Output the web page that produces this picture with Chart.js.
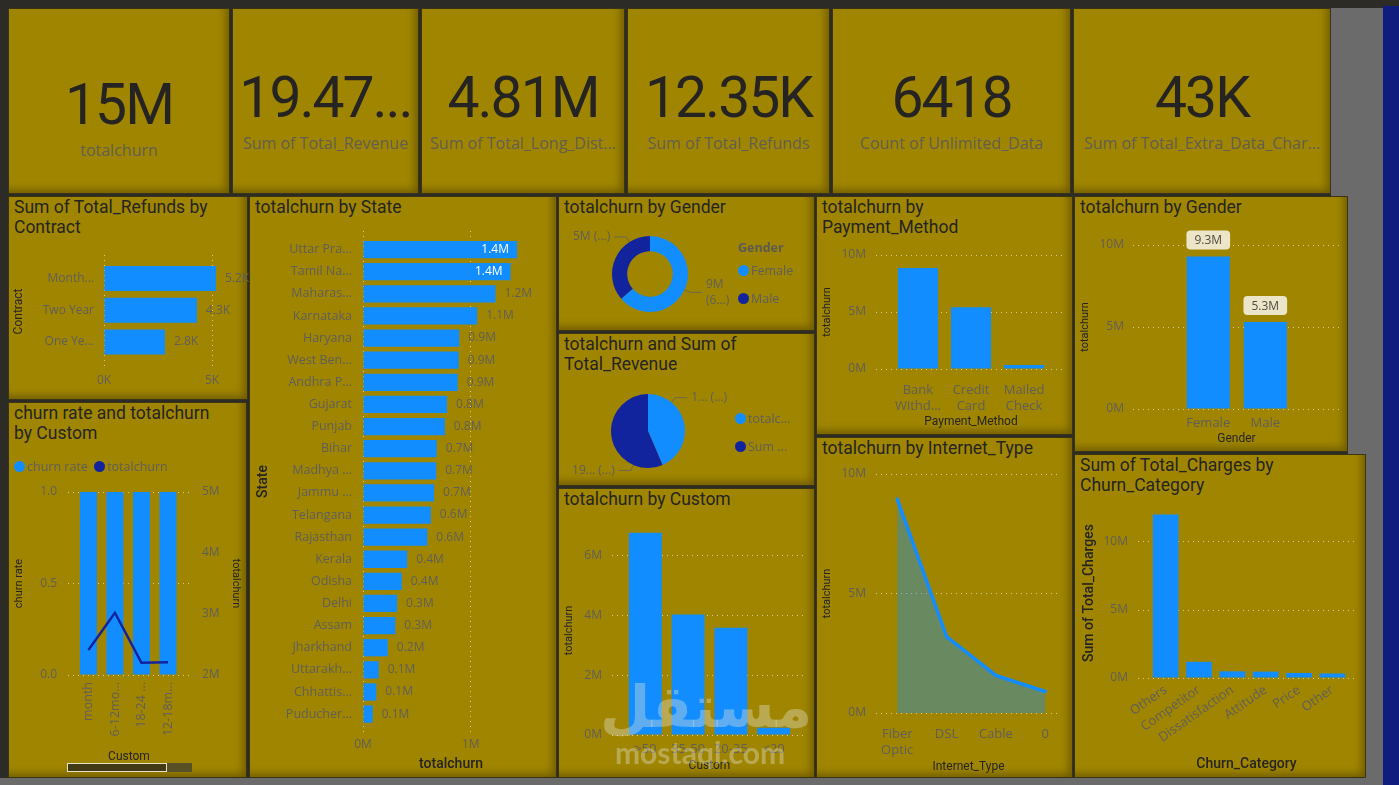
<!DOCTYPE html>
<html>
<head>
<meta charset="utf-8">
<title>Customer churn dashboard</title>
<script src="https://cdn.jsdelivr.net/npm/chart.js@4.4.1/dist/chart.umd.min.js"></script>
<style>
  html, body { margin: 0; padding: 0; }
  body { width: 1399px; height: 785px; position: relative; overflow: hidden; background: #2d2b25; font-family: "Open Sans", sans-serif; }
  .block { position: absolute; }
  .panel { position: absolute; box-sizing: border-box; background: #a08600; border: 1px solid #3b3414; box-shadow: inset -6px -6px 9px -3px rgba(50, 38, 0, 0.45); }
  .title { position: absolute; left: 5px; top: 0; font: 400 17.5px Roboto, sans-serif; line-height: 20px; color: #252423; white-space: nowrap; }
  .kpi-value { position: absolute; left: 0; width: 100%; text-align: center; font: 400 57px Roboto, sans-serif; line-height: 57px; letter-spacing: -2px; color: #252423; white-space: nowrap; }
  .kpi-label { position: absolute; left: 0; width: 100%; text-align: center; font: 400 16px "Open Sans", sans-serif; line-height: 20px; color: #625e50; white-space: nowrap; }
  .chart { position: absolute; }
  .legend { position: absolute; font: 12.5px "Open Sans", sans-serif; line-height: 16px; color: #605E5C; white-space: nowrap; }
  .dot { display: inline-block; width: 11px; height: 11px; border-radius: 50%; vertical-align: -1px; margin-right: 2px; }
  .mark { position: absolute; color: rgba(225, 225, 215, 0.38); white-space: nowrap; text-align: center; pointer-events: none; }
</style>
</head>
<body>
<script>
// ============================================
// DATA - values
// ============================================
const kpiValues = ['15M', '19.47...', '4.81M', '12.35K', '6418', '43K'];
const kpiLabels = ['totalchurn', 'Sum of Total_Revenue', 'Sum of Total_Long_Dist...', 'Sum of Total_Refunds', 'Count of Unlimited_Data', 'Sum of Total_Extra_Data_Char...'];

// refunds by contract
const contracts = ['Month...', 'Two Year', 'One Ye...'];
const contractRefunds = [5180, 4300, 2820];
const contractTicks = [0, 5000];

// churn rate + totalchurn by custom (tenure group)
const tenureGroups = ['month', '6-12mo...', '18-24 ...', '12-18m...'];
const tenureChurnRate = [1, 1, 1, 1];
const tenureTotalChurn = [2410000, 3020000, 2200000, 2210000];
const rateTicks = [0, 0.5, 1];
const rightChurnTicks = [2000000, 3000000, 4000000, 5000000];

// totalchurn by state
const states = ['Uttar Pra...', 'Tamil Na...', 'Maharas...', 'Karnataka', 'Haryana', 'West Ben...', 'Andhra P...', 'Gujarat', 'Punjab', 'Bihar', 'Madhya ...', 'Jammu ...', 'Telangana', 'Rajasthan', 'Kerala', 'Odisha', 'Delhi', 'Assam', 'Jharkhand', 'Uttarakh...', 'Chhattis...', 'Puducher...'];
const stateChurn = [1430000, 1370000, 1230000, 1060000, 894000, 888000, 879000, 780000, 760000, 684000, 680000, 660000, 630000, 597000, 410000, 360000, 316000, 300000, 230000, 146000, 124000, 90000];
const stateTicks = [0, 1000000];

// gender (donut + bar)
const genders = ['Female', 'Male'];
const genderChurn = [9300000, 5300000];
const donutTexts = [['9M', '(6...)'], ['5M (...)']];
const genderTicks = [0, 5000000, 10000000];

// totalchurn vs revenue pie
const pieNames = ['totalchurn', 'Sum of Total_Revenue'];
const pieValues = [15000000, 19470000];
const pieTexts = [['1... (...)'], ['19... (...)']];

// totalchurn by custom (age bins)
const ageBins = ['>50', '35-50', '20-35', '<20'];
const ageChurn = [6770000, 4040000, 3590000, 240000];
const ageTicks = [0, 2000000, 4000000, 6000000];

// totalchurn by payment method
const paymentTicks = [['Bank', 'Withd...'], ['Credit', 'Card'], ['Mailed', 'Check']];
const paymentChurn = [8860000, 5420000, 350000];
const paymentValueTicks = [0, 5000000, 10000000];

// totalchurn by internet type
const internetTicks = [['Fiber', 'Optic'], 'DSL', 'Cable', '0'];
const internetChurn = [8950000, 3200000, 1570000, 900000];
const internetValueTicks = [0, 5000000, 10000000];

// total charges by churn category
const churnCategories = ['Others', 'Competitor', 'Dissatisfaction', 'Attitude', 'Price', 'Other'];
const churnCharges = [12020000, 1190000, 490000, 470000, 370000, 330000];
const chargeTicks = [0, 5000000, 10000000];

// ============================================
// COLOURS AND HELPERS
// ============================================
const BLUE = '#118DFF';
const NAVY = '#12239E';
const GRID = 'rgba(255, 255, 255, 0.6)';
const TICK = '#605E5C';
const DARK = '#252423';
const PAD_TOP = 26;

const fmtM = v => v / 1000000 + 'M';
const fmtK = v => v / 1000 + 'K';
const fmtM1 = v => (v / 1000000).toFixed(1) + 'M';

// panels and background blocks
const panels = [
  [8, 8, 222, 186, ''], [232, 8, 187, 186, ''], [421, 8, 204, 186, ''],
  [627, 8, 203, 186, ''], [832, 8, 239, 186, ''], [1073, 8, 258, 186, ''],
  [8, 196, 240, 204, 'Sum of Total_Refunds by<br>Contract'],
  [8, 402, 239, 376, 'churn rate and totalchurn<br>by Custom'],
  [249, 196, 308, 582, 'totalchurn by State'],
  [558, 196, 257, 135, 'totalchurn by Gender'],
  [558, 333, 257, 153, 'totalchurn and Sum of<br>Total_Revenue'],
  [558, 488, 257, 290, 'totalchurn by Custom'],
  [816, 196, 257, 239, 'totalchurn by<br>Payment_Method'],
  [816, 437, 257, 341, 'totalchurn by Internet_Type'],
  [1074, 196, 274, 256, 'totalchurn by Gender'],
  [1074, 454, 292, 324, 'Sum of Total_Charges by<br>Churn_Category']
];
const blocks = [
  [1331, 8, 52, 188, '#6b6b6b'], [1348, 196, 35, 258, '#6b6b6b'],
  [1366, 454, 17, 324, '#6b6b6b'], [0, 778, 1383, 7, '#6b6b6b'],
  [1383, 6, 16, 779, '#101c7e']
];

blocks.forEach(([x, y, w, h, c]) => {
  const d = document.createElement('div');
  d.className = 'block';
  Object.assign(d.style, { left: x + 'px', top: y + 'px', width: w + 'px', height: h + 'px', background: c });
  document.body.appendChild(d);
});

const panelEls = panels.map(([x, y, w, h, title]) => {
  const d = document.createElement('div');
  d.className = 'panel';
  Object.assign(d.style, { left: x + 'px', top: y + 'px', width: w + 'px', height: h + 'px' });
  if (title) d.innerHTML = `<div class="title">${title}</div>`;
  document.body.appendChild(d);
  return d;
});

// kpi cards
kpiValues.forEach((v, i) => {
  const shift = i === 0 ? 7 : 0;
  panelEls[i].innerHTML =
    `<div class="kpi-value" style="top:${60 + shift}px">${v}</div>` +
    `<div class="kpi-label" style="top:${124 + shift}px">${kpiLabels[i]}</div>`;
});

// puts a canvas so the plot area lands on the given frame
function mount(f) {
  const wrap = document.createElement('div');
  wrap.className = 'chart';
  Object.assign(wrap.style, {
    left: (f.left - f.yW) + 'px',
    top: (f.top - PAD_TOP) + 'px',
    width: (f.yW + f.right - f.left + (f.rW || 0) + (f.padR || 0)) + 'px',
    height: (PAD_TOP + f.bottom - f.top + f.xH) + 'px'
  });
  const canvas = document.createElement('canvas');
  wrap.appendChild(canvas);
  document.body.appendChild(wrap);
  return canvas;
}
function pad(f) {
  return { padding: { top: PAD_TOP, right: f.padR || 0, left: 0, bottom: 0 } };
}

function axisTitle(text, size, weight) {
  if (!text) return { display: false };
  return { display: true, text: text, color: DARK, padding: 0, font: { family: 'Roboto', size: size || 11, weight: weight || 'normal' } };
}

// numeric value axis with fixed ticks
function valueScale(o) {
  return {
    type: 'linear', min: o.min, max: o.max, position: o.position,
    afterBuildTicks: s => { s.ticks = o.ticks.map(v => ({ value: v })); },
    afterFit: o.fit,
    grid: { display: o.grid !== false, color: GRID, lineWidth: 1, drawTicks: false },
    border: { display: false, dash: [1, 4] },
    ticks: { color: TICK, font: { size: 12 }, padding: o.pad, autoSkip: false, callback: o.format },
    title: axisTitle(o.title, o.titleSize, o.titleWeight)
  };
}
// category axis laid on a linear scale so the outer gaps match
function indexScale(o) {
  return {
    type: 'linear', min: o.min, max: o.max, reverse: !!o.reverse, offset: false,
    afterBuildTicks: s => { s.ticks = o.labels.map((_, i) => ({ value: i })); },
    afterFit: o.fit,
    grid: { display: false, drawTicks: false, offset: false },
    border: { display: false },
    ticks: { color: TICK, font: { size: o.size || 12, lineHeight: 1.25 }, padding: o.pad, autoSkip: false,
             minRotation: o.rot || 0, maxRotation: o.rot || 0, callback: v => o.labels[v] },
    title: axisTitle(o.title, o.titleSize, o.titleWeight)
  };
}
const fitW = w => s => { s.width = w; };
const fitH = h => s => { s.height = h; };
const points = (vals, horizontal) => vals.map((v, i) => horizontal ? { x: v, y: i } : { x: i, y: v });

// ============================================
// PLUGINS - data labels and pie leader labels
// ============================================
const barLabels = {
  id: 'barLabels',
  afterDatasetsDraw(chart, args, opts) {
    if (!opts.values) return;
    const ctx = chart.ctx;
    ctx.save();
    ctx.font = '12px "Open Sans"';
    chart.getDatasetMeta(0).data.forEach((bar, i) => {
      const v = opts.values[i];
      const text = opts.format(v);
      if (chart.options.indexAxis === 'y') {
        ctx.textBaseline = 'middle';
        if (opts.insideAbove && v >= opts.insideAbove) {
          ctx.fillStyle = '#ffffff';
          ctx.textAlign = 'right';
          ctx.fillText(text, bar.x - 8, bar.y);
        } else {
          ctx.fillStyle = TICK;
          ctx.textAlign = 'left';
          ctx.fillText(text, bar.x + 9, bar.y);
        }
      } else {
        // boxed label sitting on top of the column
        const w = ctx.measureText(text).width + 16, h = 19;
        const bx = bar.x - w / 2, by = bar.y - 7 - h;
        ctx.fillStyle = '#ece5c8';
        ctx.beginPath();
        if (ctx.roundRect) ctx.roundRect(bx, by, w, h, 4); else ctx.rect(bx, by, w, h);
        ctx.fill();
        ctx.fillStyle = '#4f4c44';
        ctx.textAlign = 'center';
        ctx.textBaseline = 'middle';
        ctx.fillText(text, bar.x, by + h / 2 + 0.5);
      }
    });
    ctx.restore();
  }
};

const pieLabels = {
  id: 'pieLabels',
  afterDatasetsDraw(chart, args, opts) {
    if (!opts.texts) return;
    const ctx = chart.ctx;
    ctx.save();
    ctx.font = '12px "Open Sans"';
    ctx.strokeStyle = '#6d6650';
    ctx.fillStyle = TICK;
    ctx.lineWidth = 1;
    ctx.textBaseline = 'middle';
    chart.getDatasetMeta(0).data.forEach((arc, i) => {
      const p = arc.getProps(['x', 'y', 'startAngle', 'endAngle', 'outerRadius'], true);
      // angle measured clockwise from 12 o'clock
      let fromTop = (p.startAngle + p.endAngle) / 2 + Math.PI / 2;
      fromTop = ((fromTop % (2 * Math.PI)) + 2 * Math.PI) % (2 * Math.PI);
      const pole = fromTop <= Math.PI / 2 ? 0 : (fromTop >= 1.5 * Math.PI ? 2 * Math.PI : Math.PI);
      const pull = (opts.pull && opts.pull[i]) || 0;
      const a = pole + (fromTop - pole) * (1 - pull) - Math.PI / 2;
      const cos = Math.cos(a), sin = Math.sin(a);
      const x0 = p.x + cos * p.outerRadius, y0 = p.y + sin * p.outerRadius;
      const x1 = p.x + cos * (p.outerRadius + 6), y1 = p.y + sin * (p.outerRadius + 6);
      const dir = cos >= 0 ? 1 : -1;
      const x2 = x1 + dir * 12;
      ctx.beginPath();
      ctx.moveTo(x0, y0); ctx.lineTo(x1, y1); ctx.lineTo(x2, y1);
      ctx.stroke();
      ctx.textAlign = dir > 0 ? 'left' : 'right';
      const lines = opts.texts[i];
      lines.forEach((t, k) => ctx.fillText(t, x2 + dir * 4, y1 - (lines.length - 1) * 8 + k * 16));
    });
    ctx.restore();
  }
};

Chart.register(barLabels, pieLabels);
Chart.defaults.font.family = '"Open Sans", sans-serif';
Chart.defaults.color = TICK;
Chart.defaults.animation = false;
Chart.defaults.responsive = true;
Chart.defaults.maintainAspectRatio = false;
Chart.defaults.plugins.legend.display = false;
Chart.defaults.plugins.tooltip.enabled = false;

// ============================================
// REFUNDS BY CONTRACT
// ============================================
const fA = { left: 104, top: 255, right: 225, bottom: 368, yW: 92, xH: 24, padR: 35 };
new Chart(mount(fA), {
  type: 'bar',
  data: { datasets: [{ data: points(contractRefunds, true), backgroundColor: BLUE, categoryPercentage: 1, barPercentage: 0.79 }] },
  options: {
    indexAxis: 'y',
    layout: pad(fA),
    scales: {
      x: valueScale({ min: 0, max: 5600, ticks: contractTicks, format: fmtK, pad: 5, fit: fitH(fA.xH) }),
      y: indexScale({ labels: contracts, min: -0.74, max: 2.82, reverse: true, pad: 10, fit: fitW(fA.yW), title: 'Contract', titleSize: 12 })
    },
    plugins: { barLabels: { values: contractRefunds, format: v => (v / 1000).toFixed(1) + 'K' } }
  }
});

// ============================================
// CHURN RATE AND TOTALCHURN BY CUSTOM
// ============================================
const fB = { left: 68, top: 492, right: 190, bottom: 675, yW: 55, rW: 52, xH: 89 };
new Chart(mount(fB), {
  type: 'bar',
  data: {
    datasets: [
      { type: 'line', data: points(tenureTotalChurn), yAxisID: 'y1', borderColor: NAVY, borderWidth: 2.5, pointRadius: 0, order: 1 },
      { type: 'bar', data: points(tenureChurnRate), yAxisID: 'y', backgroundColor: BLUE, categoryPercentage: 1, barPercentage: 0.64, order: 2 }
    ]
  },
  options: {
    layout: pad(fB),
    scales: {
      x: indexScale({ labels: tenureGroups, min: -0.77, max: 3.83, pad: 7, rot: 90, size: 12.5, fit: fitH(fB.xH), title: 'Custom', titleSize: 12 }),
      y: valueScale({ min: 0, max: 1, ticks: rateTicks, format: v => v.toFixed(1), pad: 11, position: 'left', fit: fitW(fB.yW), title: 'churn rate' }),
      y1: valueScale({ min: 2000000, max: 5000000, ticks: rightChurnTicks, format: fmtM, pad: 12, position: 'right', grid: false, fit: fitW(fB.rW), title: 'totalchurn' })
    }
  }
});

// ============================================
// TOTALCHURN BY STATE
// ============================================
const fC = { left: 363, top: 231, right: 539, bottom: 732, yW: 108, xH: 41, padR: 12 };
new Chart(mount(fC), {
  type: 'bar',
  data: { datasets: [{ data: points(stateChurn, true), backgroundColor: BLUE, categoryPercentage: 1, barPercentage: 0.78 }] },
  options: {
    indexAxis: 'y',
    layout: pad(fC),
    scales: {
      x: valueScale({ min: 0, max: 1634000, ticks: stateTicks, format: fmtM, pad: 5, fit: fitH(fC.xH), title: 'totalchurn', titleSize: 14, titleWeight: 500 }),
      y: indexScale({ labels: states, min: -0.84, max: 21.81, reverse: true, pad: 11, size: 12.5, fit: fitW(fC.yW), title: 'State', titleSize: 14, titleWeight: 500 })
    },
    plugins: { barLabels: { values: stateChurn, format: fmtM1, insideAbove: 1300000 } }
  }
});

// ============================================
// TOTALCHURN BY GENDER (DONUT)
// ============================================
const donutWrap = mount({ left: 560, top: 256, right: 740, bottom: 318, yW: 0, xH: 0 });
new Chart(donutWrap, {
  type: 'doughnut',
  data: { labels: genders, datasets: [{ data: genderChurn, backgroundColor: [BLUE, NAVY], borderWidth: 0, hoverOffset: 0 }] },
  options: {
    cutout: '60%',
    layout: { padding: { top: 6, bottom: 6, left: 0, right: 0 } },
    plugins: { pieLabels: { texts: donutTexts, pull: [0, 0.5] } }
  }
});

// ============================================
// TOTALCHURN AND SUM OF TOTAL_REVENUE (PIE)
// ============================================
const pieWrap = mount({ left: 560, top: 411, right: 736, bottom: 477, yW: 0, xH: 0 });
new Chart(pieWrap, {
  type: 'pie',
  data: { labels: pieNames, datasets: [{ data: pieValues, backgroundColor: [BLUE, NAVY], borderWidth: 0, hoverOffset: 0 }] },
  options: {
    layout: { padding: { top: 9, bottom: 9, left: 0, right: 0 } },
    plugins: { pieLabels: { texts: pieTexts, pull: [0.5, 0.7] } }
  }
});

// ============================================
// TOTALCHURN BY CUSTOM (AGE BINS)
// ============================================
const fF = { left: 612, top: 526, right: 807, bottom: 735, yW: 49, xH: 38, padR: 5 };
new Chart(mount(fF), {
  type: 'bar',
  data: { datasets: [{ data: points(ageChurn), backgroundColor: BLUE, categoryPercentage: 1, barPercentage: 0.77 }] },
  options: {
    layout: pad(fF),
    scales: {
      x: indexScale({ labels: ageBins, min: -0.78, max: 3.78, pad: 6, size: 13, fit: fitH(fF.xH), title: 'Custom', titleSize: 12 }),
      y: valueScale({ min: 0, max: 7000000, ticks: ageTicks, format: fmtM, pad: 10, fit: fitW(fF.yW), title: 'totalchurn' })
    }
  }
});

// ============================================
// TOTALCHURN BY PAYMENT_METHOD
// ============================================
const fG = { left: 876, top: 255, right: 1066, bottom: 369, yW: 55, xH: 60, padR: 5 };
new Chart(mount(fG), {
  type: 'bar',
  data: { datasets: [{ data: points(paymentChurn), backgroundColor: BLUE, categoryPercentage: 1, barPercentage: 0.755 }] },
  options: {
    layout: pad(fG),
    scales: {
      x: indexScale({ labels: paymentTicks, min: -0.79, max: 2.79, pad: 13, size: 13, fit: fitH(fG.xH), title: 'Payment_Method', titleSize: 12 }),
      y: valueScale({ min: 0, max: 10000000, ticks: paymentValueTicks, format: fmtM, pad: 10, fit: fitW(fG.yW), title: 'totalchurn' })
    }
  }
});

// ============================================
// TOTALCHURN BY INTERNET_TYPE (AREA)
// ============================================
const fH = { left: 876, top: 474, right: 1061, bottom: 713, yW: 55, xH: 61, padR: 10 };
new Chart(mount(fH), {
  type: 'line',
  data: {
    datasets: [{
      data: points(internetChurn), borderColor: BLUE, borderWidth: 3.5, pointRadius: 0, tension: 0,
      borderCapStyle: 'round', borderJoinStyle: 'round',
      fill: 'origin', backgroundColor: 'rgba(17, 141, 255, 0.38)'
    }]
  },
  options: {
    layout: pad(fH),
    scales: {
      x: indexScale({ labels: internetTicks, min: -0.43, max: 3.32, pad: 13, size: 13, fit: fitH(fH.xH), title: 'Internet_Type', titleSize: 12 }),
      y: valueScale({ min: 0, max: 10000000, ticks: internetValueTicks, format: fmtM, pad: 10, fit: fitW(fH.yW), title: 'totalchurn' })
    }
  }
});

// ============================================
// TOTALCHURN BY GENDER (COLUMNS)
// ============================================
const fI = { left: 1133, top: 245, right: 1340, bottom: 409, yW: 54, xH: 37, padR: 5 };
new Chart(mount(fI), {
  type: 'bar',
  data: { datasets: [{ data: points(genderChurn), backgroundColor: BLUE, categoryPercentage: 1, barPercentage: 0.755 }] },
  options: {
    layout: pad(fI),
    scales: {
      x: indexScale({ labels: genders, min: -1.32, max: 2.31, pad: 6, size: 13, fit: fitH(fI.xH), title: 'Gender', titleSize: 12 }),
      y: valueScale({ min: 0, max: 10000000, ticks: genderTicks, format: fmtM, pad: 9, fit: fitW(fI.yW), title: 'totalchurn' })
    },
    plugins: { barLabels: { values: genderChurn, format: fmtM1 } }
  }
});

// ============================================
// SUM OF TOTAL_CHARGES BY CHURN_CATEGORY
// ============================================
const fJ = { left: 1138, top: 508, right: 1355, bottom: 678, yW: 57, xH: 95, padR: 8 };
new Chart(mount(fJ), {
  type: 'bar',
  data: { datasets: [{ data: points(churnCharges), backgroundColor: BLUE, categoryPercentage: 1, barPercentage: 0.77 }] },
  options: {
    layout: pad(fJ),
    scales: {
      x: indexScale({ labels: churnCategories, min: -0.83, max: 5.68, pad: 4, size: 13, rot: 35, fit: fitH(fJ.xH), title: 'Churn_Category', titleSize: 14, titleWeight: 500 }),
      y: valueScale({ min: 0, max: 12500000, ticks: chargeTicks, format: fmtM, pad: 10, fit: fitW(fJ.yW), title: 'Sum of Total_Charges', titleSize: 14, titleWeight: 500 })
    }
  }
});

// ============================================
// LEGENDS, SCROLLBAR, WATERMARK
// ============================================
function addHtml(html) {
  const d = document.createElement('div');
  d.innerHTML = html;
  while (d.firstChild) document.body.appendChild(d.firstChild);
}
addHtml(`
  <div class="legend" style="left:14px; top:459px;">
    <span class="dot" style="background:${BLUE}"></span>churn rate
    <span class="dot" style="background:${NAVY}; margin-left:3px;"></span>totalchurn
  </div>
  <div class="legend" style="left:738px; top:240px; font-weight:700; color:#5d5a52;">Gender</div>
  <div class="legend" style="left:738px; top:263px;"><span class="dot" style="background:${BLUE}"></span>${genders[0]}</div>
  <div class="legend" style="left:738px; top:291px;"><span class="dot" style="background:${NAVY}"></span>${genders[1]}</div>
  <div class="legend" style="left:735px; top:411px;"><span class="dot" style="background:${BLUE}"></span>totalc...</div>
  <div class="legend" style="left:735px; top:439px;"><span class="dot" style="background:${NAVY}"></span>Sum ...</div>
  <div class="block" style="left:67px; top:763px; width:125px; height:9px; background:#5a5026;"></div>
  <div class="block" style="left:67px; top:763px; width:98px; height:7px; background:#423915; border:1px solid #e8e1c6;"></div>
  <div class="mark" style="left:600px; top:672px; width:200px; font:700 58px 'DejaVu Sans', sans-serif; line-height:70px;">مستقل</div>
  <div class="mark" style="left:600px; top:733px; width:200px; font:700 30px Lato, sans-serif; line-height:38px;">mostaql.com</div>
`);
</script>
</body>
</html>
